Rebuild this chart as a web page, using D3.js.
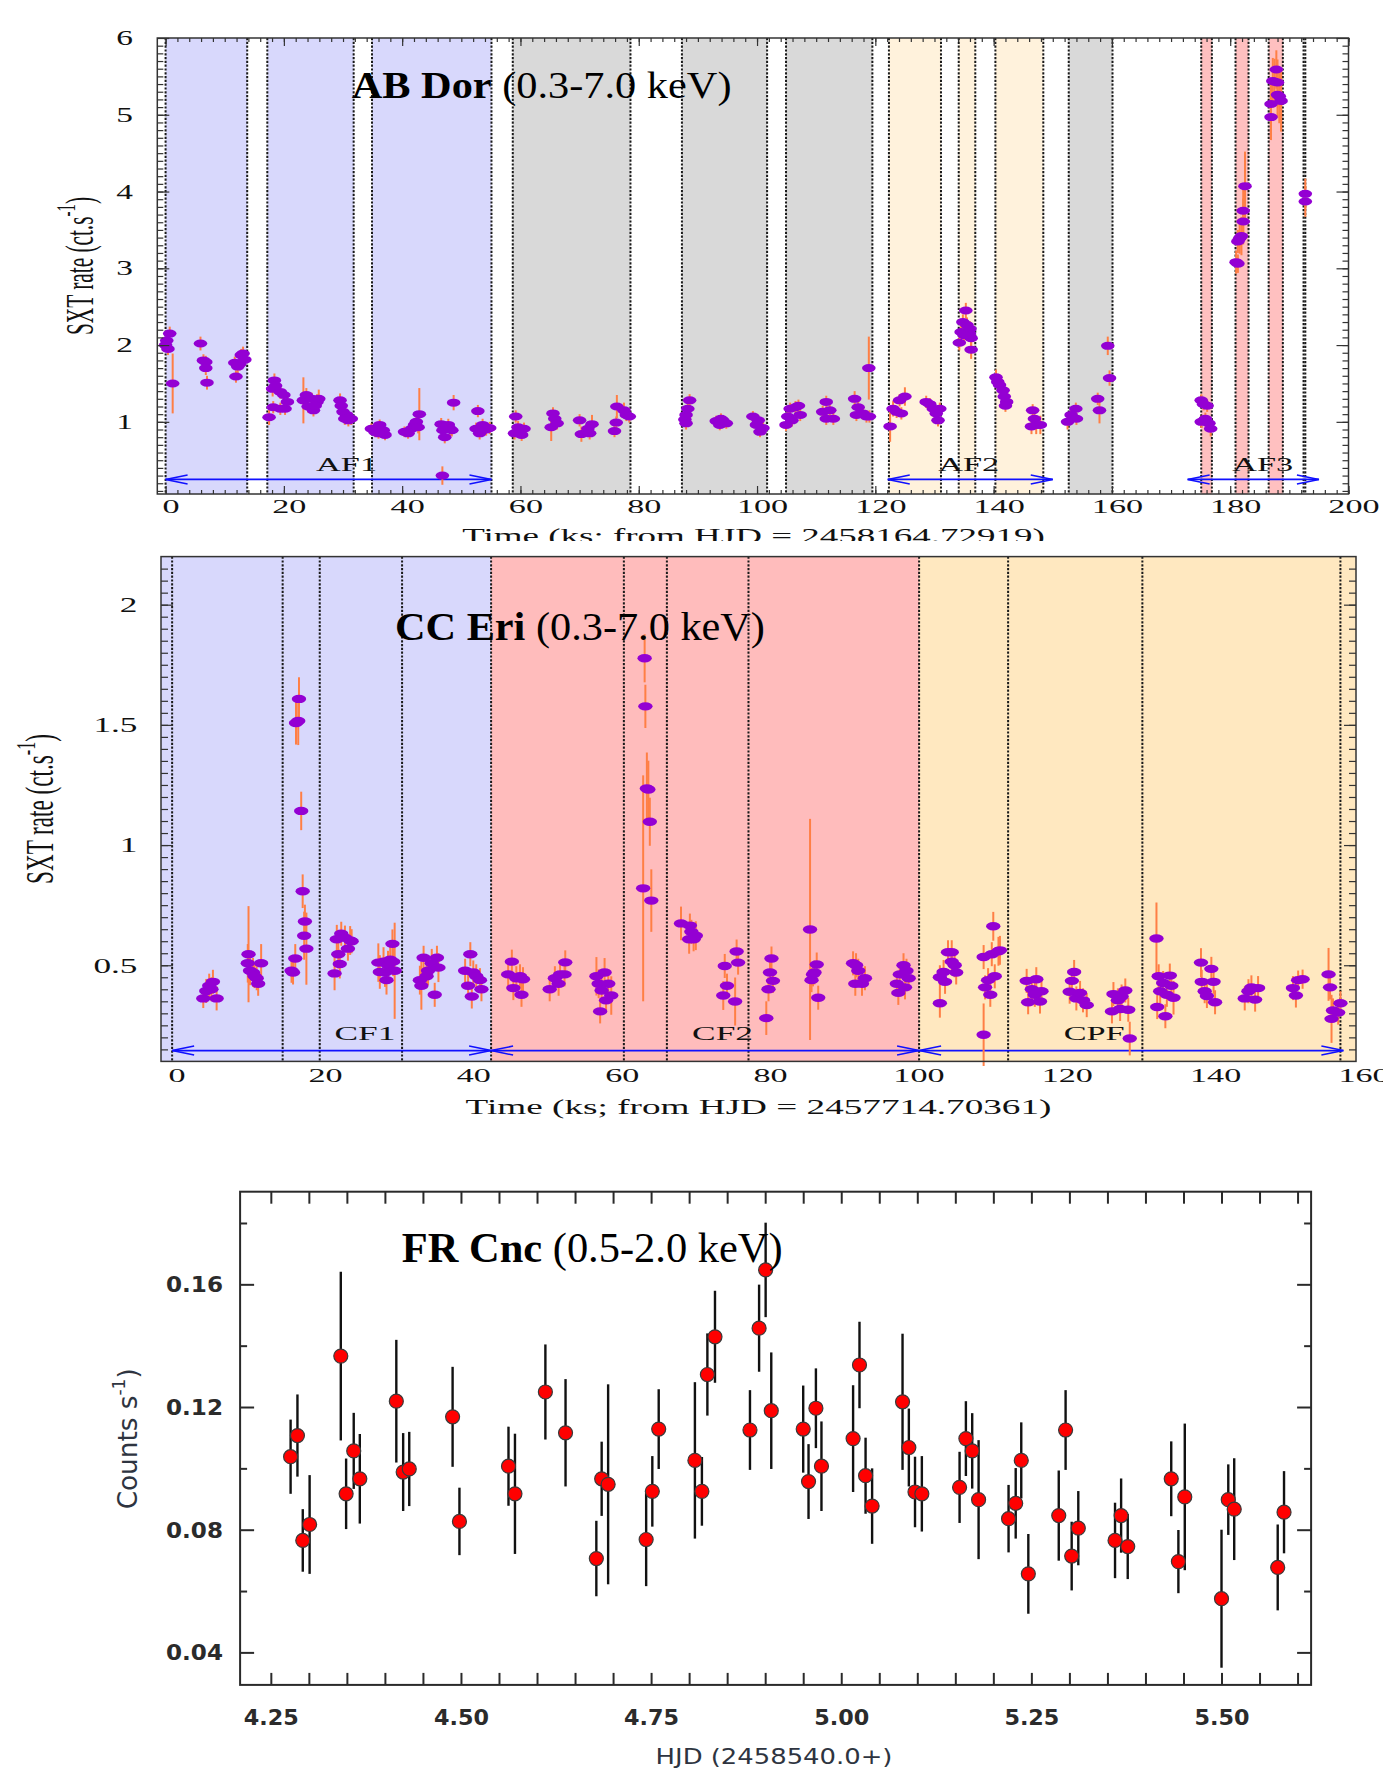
<!DOCTYPE html>
<html>
<head>
<meta charset="utf-8">
<script src="https://cdn.jsdelivr.net/npm/d3@7"></script>
<style>
body{margin:0;background:#fff;}
svg{display:block;}
</style>
</head>
<body>
<script>
// ---------------- DATA ----------------
// AB Dor : [time (ks), SXT rate, error]
const abDor = [
[0.0,2.00,0.08],[0.2,2.06,0.08],[0.7,2.15,0.09],[0.4,1.95,0.08],[1.2,1.50,0.39],
[5.9,2.02,0.09],[6.4,1.80,0.08],[6.8,1.78,0.08],[6.8,1.70,0.09],[7.0,1.51,0.09],
[11.7,1.77,0.08],[11.9,1.59,0.08],[12.2,1.72,0.09],[12.8,1.87,0.08],[13.1,1.89,0.09],[13.4,1.81,0.08],[12.5,1.75,0.08],
[17.5,1.06,0.10],[18.1,1.43,0.10],[18.4,1.54,0.09],[18.6,1.47,0.08],[19.4,1.39,0.09],[20.0,1.35,0.08],[20.2,1.17,0.08],[19.4,1.17,0.08],[20.6,1.26,0.08],[18.2,1.19,0.08],
[23.3,1.28,0.30],[23.8,1.35,0.09],[24.1,1.20,0.08],[24.7,1.30,0.08],[25.0,1.15,0.08],[25.6,1.26,0.10],[25.9,1.30,0.12],[25.3,1.21,0.08],
[29.5,1.28,0.09],[29.7,1.21,0.08],[30.0,1.13,0.08],[30.6,1.09,0.08],[30.9,1.02,0.08],[31.4,1.04,0.08],[30.3,1.04,0.08],
[34.8,0.91,0.07],[35.4,0.87,0.07],[36.2,0.96,0.07],[36.8,0.89,0.07],[37.1,0.83,0.07],[36.0,0.85,0.07],
[40.4,0.87,0.07],[41.0,0.85,0.07],[41.6,0.91,0.08],[42.1,0.96,0.08],[42.4,1.00,0.08],[42.9,1.10,0.34],[42.7,0.93,0.08],
[46.6,0.97,0.08],[46.9,0.89,0.08],[47.2,0.80,0.08],[47.8,0.96,0.08],[48.1,0.91,0.08],[48.4,0.89,0.08],[48.7,1.25,0.10],[46.8,0.30,0.12],
[52.8,1.14,0.08],[52.5,0.91,0.08],[53.1,0.85,0.08],[53.6,0.96,0.08],[54.2,0.90,0.08],[54.8,0.92,0.08],
[59.2,1.07,0.08],[59.6,0.93,0.08],[60.2,0.83,0.08],[59.0,0.85,0.08],[60.6,0.91,0.08],
[65.5,1.11,0.08],[65.8,1.04,0.08],[65.2,0.93,0.18],[66.2,0.98,0.08],
[70.0,1.02,0.08],[70.3,0.84,0.10],[71.7,0.85,0.08],[72.1,0.97,0.12],[71.4,0.91,0.08],
[75.9,0.88,0.08],[76.2,0.99,0.08],[76.3,1.20,0.15],[77.5,1.15,0.10],[77.9,1.09,0.08],[78.4,1.07,0.08],
[87.8,1.03,0.08],[88.0,1.09,0.08],[88.3,1.17,0.08],[88.6,1.28,0.08],[88.0,0.98,0.08],
[93.1,1.01,0.07],[93.7,0.96,0.07],[94.2,1.02,0.07],[94.8,0.98,0.07],[93.9,1.04,0.07],
[99.3,1.07,0.07],[99.9,0.96,0.07],[100.5,0.87,0.07],[101.0,0.92,0.08],[100.2,1.02,0.07],
[104.9,0.96,0.08],[105.2,1.07,0.08],[105.6,1.17,0.08],[106.5,1.19,0.08],[107.0,1.21,0.08],[107.3,1.09,0.08],[105.9,1.02,0.08],
[111.1,1.13,0.08],[111.7,1.26,0.08],[112.3,1.15,0.08],[112.9,1.04,0.08],[111.7,1.04,0.08],
[116.5,1.30,0.10],[117.1,1.19,0.08],[116.8,1.09,0.08],[117.9,1.11,0.08],[118.5,1.07,0.08],[118.9,1.70,0.41],[119.0,1.07,0.08],
[122.5,0.94,0.20],[123.0,1.17,0.10],[123.6,1.13,0.08],[124.1,1.28,0.08],[125.0,1.33,0.12],[124.4,1.11,0.08],
[128.6,1.26,0.08],[129.2,1.23,0.08],[129.8,1.17,0.08],[130.3,1.11,0.08],[130.6,1.02,0.08],[130.9,1.17,0.08],
[134.2,2.03,0.10],[134.5,2.17,0.10],[134.8,2.30,0.10],[135.3,2.45,0.10],[135.5,2.26,0.10],[135.9,2.15,0.10],[136.0,2.21,0.10],[136.2,2.09,0.10],[136.2,1.94,0.12],[135.0,2.13,0.10],
[140.4,1.58,0.10],[140.7,1.52,0.08],[141.0,1.48,0.08],[141.6,1.41,0.08],[141.8,1.33,0.08],[142.2,1.26,0.08],[142.0,1.21,0.08],
[146.6,1.15,0.08],[146.9,1.04,0.10],[147.2,0.96,0.12],[147.9,0.96,0.12],[146.4,0.94,0.10],
[152.5,1.00,0.10],[153.1,1.09,0.08],[153.9,1.17,0.08],[154.0,1.04,0.08],
[157.6,1.30,0.08],[157.9,1.15,0.17],[159.3,1.99,0.12],[159.6,1.57,0.10],
[175.1,1.28,0.08],[175.5,1.23,0.08],[176.1,1.21,0.08],[175.1,1.00,0.08],[175.8,1.04,0.08],[176.7,0.91,0.10],[176.4,0.98,0.08],
[181.0,3.08,0.15],[181.3,3.06,0.12],[181.3,3.35,0.15],[181.6,3.39,0.20],[181.9,3.42,0.25],[182.2,3.61,0.30],[182.2,3.75,0.35],[182.5,4.07,0.45],
[186.9,4.97,0.30],[186.9,5.14,0.30],[187.2,5.44,0.30],[187.5,5.43,0.30],[187.8,5.59,0.25],[188.0,5.42,0.30],[188.3,5.24,0.35],[188.6,5.18,0.40],[188.0,5.26,0.30],
[192.7,3.97,0.20],[192.7,3.87,0.20]
];
const abBlue   = [[0,13.8],[17.2,31.8],[34.9,55.1]];
const abGray   = [[58.7,78.6],[87.3,101.7],[104.9,119.5],[152.7,160.1]];
const abOrange = [[122.3,131.1],[134.1,136.9],[140.3,148.4]];
const abRed    = [[175.1,176.9],[180.9,183.1],[186.5,188.9]];
const abLines  = [0,13.8,17.2,31.8,34.9,55.1,58.7,78.6,87.3,101.7,104.9,119.5,122.3,131.1,134.1,136.9,140.3,148.4,152.7,160.1,175.1,176.9,180.9,183.1,186.5,188.9,192.4,192.7];
const abArrows = [["AF1",0,55.1,30.6],["AF2",122.1,150.0,135.8],["AF3",172.8,195.0,185.5]];
const abXTicks = [0,20,40,60,80,100,120,140,160,180,200];
const abYTicks = [1,2,3,4,5,6];

// CC Eri : [time (ks), SXT rate, error]
const ccEri = [
[4.2,0.362,0.04],[4.6,0.393,0.05],[5.0,0.415,0.05],[5.5,0.431,0.05],[5.3,0.400,0.05],[6.0,0.362,0.05],
[10.3,0.546,0.20],[10.2,0.508,0.08],[10.5,0.477,0.06],[10.9,0.470,0.06],[11.4,0.446,0.05],[11.6,0.423,0.05],[12.0,0.508,0.08],[11.1,0.455,0.05],
[16.1,0.477,0.05],[16.3,0.470,0.05],[16.6,0.528,0.06],[16.7,1.508,0.09],[17.0,1.516,0.10],[17.1,1.608,0.09],[17.4,1.142,0.08],[17.6,0.808,0.07],[17.9,0.682,0.07],[17.8,0.623,0.10],[18.1,0.569,0.15],
[21.9,0.466,0.07],[22.2,0.608,0.06],[22.4,0.546,0.06],[22.6,0.505,0.06],[22.8,0.631,0.05],[23.3,0.615,0.05],[24.0,0.603,0.06],[23.7,0.569,0.05],[24.2,0.600,0.05],
[27.8,0.511,0.08],[28.0,0.472,0.07],[28.5,0.515,0.06],[28.9,0.438,0.06],[29.1,0.500,0.06],[29.4,0.523,0.06],[29.7,0.589,0.06],[29.8,0.515,0.06],[30.0,0.477,0.20],[28.7,0.470,0.06],
[33.4,0.438,0.06],[33.6,0.415,0.10],[33.9,0.531,0.05],[34.3,0.454,0.05],[34.5,0.477,0.06],[35.0,0.508,0.06],[35.4,0.377,0.05],[35.7,0.531,0.05],[35.9,0.490,0.06],
[39.5,0.477,0.05],[39.9,0.415,0.05],[40.2,0.546,0.05],[40.4,0.370,0.05],[40.6,0.470,0.05],[41.0,0.454,0.05],[41.5,0.438,0.05],[41.7,0.400,0.05],
[45.3,0.462,0.05],[45.8,0.515,0.05],[46.0,0.405,0.05],[46.4,0.446,0.05],[46.9,0.454,0.05],[47.1,0.377,0.05],[47.3,0.442,0.05],
[50.9,0.400,0.05],[51.6,0.446,0.05],[52.1,0.423,0.05],[52.3,0.462,0.05],[53.0,0.512,0.05],[52.9,0.462,0.05],
[57.2,0.454,0.08],[57.5,0.423,0.06],[57.7,0.308,0.05],[57.9,0.395,0.05],[58.3,0.470,0.06],[58.8,0.423,0.06],[58.5,0.354,0.05],[59.2,0.374,0.08],
[63.5,0.820,0.47],[63.7,1.777,0.10],[63.8,1.577,0.09],[64.0,1.235,0.15],[64.2,1.231,0.12],[64.4,1.097,0.10],[64.6,0.769,0.13],
[68.6,0.674,0.07],[69.8,0.665,0.05],[70.0,0.639,0.05],[70.3,0.608,0.05],[70.6,0.623,0.06],[69.7,0.608,0.06],
[74.5,0.497,0.05],[74.8,0.415,0.05],[74.3,0.374,0.06],[76.1,0.557,0.05],[76.3,0.511,0.05],[75.9,0.349,0.10],
[80.1,0.280,0.07],[80.4,0.400,0.05],[80.6,0.470,0.05],[80.8,0.528,0.05],[81.0,0.435,0.05],
[86.0,0.649,0.46],[86.2,0.438,0.05],[86.4,0.462,0.05],[86.9,0.503,0.05],[87.1,0.365,0.05],[86.6,0.470,0.05],
[91.8,0.508,0.05],[92.1,0.423,0.05],[92.5,0.477,0.05],[93.0,0.423,0.05],[93.4,0.446,0.05],[92.2,0.500,0.05],
[97.7,0.423,0.05],[97.9,0.385,0.05],[98.1,0.462,0.05],[98.6,0.500,0.05],[99.0,0.477,0.05],[99.3,0.446,0.05],[98.8,0.408,0.05],
[103.5,0.342,0.06],[103.5,0.450,0.05],[104.0,0.472,0.05],[104.2,0.431,0.05],[104.6,0.554,0.05],[105.1,0.554,0.05],[105.1,0.515,0.05],[105.5,0.500,0.05],[105.7,0.470,0.05],
[109.4,0.211,0.13],[109.4,0.534,0.05],[109.6,0.408,0.05],[110.0,0.438,0.05],[110.3,0.377,0.05],[110.7,0.662,0.06],[110.5,0.546,0.05],[110.9,0.454,0.05],[111.4,0.558,0.06],[111.6,0.562,0.06],
[115.2,0.435,0.05],[115.4,0.346,0.05],[115.9,0.400,0.05],[116.3,0.377,0.05],[116.5,0.442,0.05],[117.0,0.349,0.05],[117.2,0.392,0.05],
[121.3,0.435,0.05],[121.0,0.390,0.05],[121.6,0.472,0.05],[121.9,0.362,0.05],[122.4,0.385,0.05],[122.8,0.354,0.05],[123.3,0.334,0.05],
[126.7,0.308,0.05],[126.9,0.380,0.05],[127.5,0.354,0.05],[127.8,0.318,0.05],[128.0,0.370,0.05],[128.5,0.395,0.05],[128.9,0.315,0.05],[129.1,0.195,0.07],
[132.7,0.611,0.15],[132.8,0.326,0.05],[133.0,0.454,0.05],[133.2,0.392,0.05],[133.6,0.426,0.05],[133.9,0.288,0.05],[134.1,0.377,0.05],[134.5,0.457,0.05],[134.7,0.415,0.05],[135.0,0.365,0.07],
[138.7,0.511,0.06],[138.8,0.431,0.05],[139.2,0.392,0.05],[139.5,0.372,0.05],[140.1,0.485,0.05],[140.4,0.431,0.05],[140.6,0.346,0.05],
[144.6,0.362,0.05],[145.1,0.392,0.05],[145.5,0.408,0.05],[146.0,0.357,0.05],[146.4,0.405,0.05],
[151.1,0.405,0.05],[151.5,0.374,0.05],[151.8,0.438,0.04],[152.4,0.442,0.04],
[155.9,0.462,0.11],[156.1,0.408,0.05],[156.3,0.277,0.10],[156.5,0.312,0.05],[157.2,0.303,0.05],[157.5,0.342,0.05]
];
const ccBlue   = [[-1.5,43.0]];
const ccRed    = [[43.0,100.7]];
const ccOrange = [[100.7,159.6]];
const ccLines  = [0,14.9,19.9,31.0,43.0,60.9,66.7,77.7,100.7,112.7,130.8,157.5];
const ccArrows = [["CF1",0,43.0,26.0],["CF2",43.0,100.7,74.2],["CPF",100.7,157.9,124.3]];
const ccXTicks = [0,20,40,60,80,100,120,140,160];
const ccYTicks = [0.5,1,1.5,2];

// FR Cnc : [HJD - 2458540.0, counts/s, error]
const frCnc = [
[4.276,0.1038,0.0121],[4.285,0.1107,0.0134],[4.292,0.0765,0.0102],[4.301,0.0817,0.0161],[4.342,0.1366,0.0275],
[4.349,0.0917,0.0115],[4.359,0.1057,0.0124],[4.367,0.0966,0.0146],[4.415,0.1219,0.0200],[4.424,0.0988,0.0127],
[4.432,0.0998,0.0121],[4.489,0.1168,0.0163],[4.498,0.0827,0.0110],[4.5625,0.1007,0.0129],[4.571,0.0917,0.0196],
[4.611,0.1249,0.0155],[4.6375,0.1116,0.0175],[4.678,0.0706,0.0123],[4.685,0.0966,0.0121],[4.6935,0.0948,0.0326],
[4.7435,0.0768,0.0152],[4.7516,0.0925,0.0115],[4.760,0.1128,0.0130],[4.8076,0.1026,0.0255],[4.8168,0.0925,0.0112],
[4.824,0.1306,0.0134],[4.834,0.1429,0.0150],[4.880,0.1125,0.0130],[4.892,0.1457,0.0142],[4.9006,0.1647,0.0154],
[4.908,0.1188,0.0190],[4.950,0.1128,0.0142],[4.957,0.0957,0.0122],[4.9667,0.1196,0.0130],[4.974,0.1007,0.0146],
[5.0156,0.1097,0.0174],[5.024,0.1337,0.0141],[5.032,0.0976,0.0124],[5.0406,0.0877,0.0123],[5.0806,0.1217,0.0222],
[5.0889,0.1068,0.0127],[5.097,0.0923,0.0115],[5.106,0.0917,0.0123],[5.1556,0.0938,0.0116],[5.1639,0.1097,0.0122],
[5.1722,0.1057,0.0123],[5.1806,0.0898,0.0194],[5.220,0.0836,0.0110],[5.2294,0.0886,0.0115],[5.2367,0.1026,0.0124],
[5.246,0.0656,0.0130],[5.286,0.0846,0.0147],[5.295,0.1125,0.0130],[5.303,0.0714,0.0112],[5.3117,0.0805,0.0121],
[5.360,0.0765,0.0123],[5.368,0.0846,0.0121],[5.3767,0.0745,0.0106],[5.4339,0.0966,0.0122],[5.4433,0.0696,0.0103],
[5.4517,0.0907,0.0239],[5.500,0.0575,0.0225],[5.5089,0.0898,0.0115],[5.5167,0.0867,0.0166],[5.5739,0.0677,0.0140],
[5.5822,0.0857,0.0134]
];
const frXTicks = [4.25,4.50,4.75,5.00,5.25,5.50];
const frYTicks = [0.04,0.08,0.12,0.16];

// ---------------- DRAWING ----------------
const W = 1383, H = 1768;
const svg = d3.select("body").append("svg").attr("width", W).attr("height", H);
const SERIF = "'Liberation Serif','DejaVu Serif',serif";
const SANS = "'DejaVu Sans','Liberation Sans',sans-serif";

function fitX(text, width, ax, ay) {
  const w = text.node().getComputedTextLength();
  text.attr("transform", `translate(${ax},${ay}) scale(${width / w},1)`);
}

function tickAxis(g, scale, orient, values, size, pos, color) {
  const gen = {bottom: d3.axisBottom, top: d3.axisTop, left: d3.axisLeft, right: d3.axisRight}[orient];
  const a = g.append("g")
    .attr("transform", (orient === "bottom" || orient === "top") ? `translate(0,${pos})` : `translate(${pos},0)`)
    .call(gen(scale).tickValues(values).tickSize(size).tickFormat(""));
  a.select(".domain").remove();
  a.selectAll("line").attr("stroke", color || "#333").attr("stroke-width", 1.2);
  return a;
}

function labelAxis(g, scale, orient, values, fmt, pos) {
  const gen = {bottom: d3.axisBottom, left: d3.axisLeft}[orient];
  const a = g.append("g")
    .attr("transform", orient === "bottom" ? `translate(0,${pos})` : `translate(${pos},0)`)
    .call(gen(scale).tickValues(values).tickSize(0).tickPadding(0).tickFormat(fmt));
  a.select(".domain").remove();
  a.selectAll("line").remove();
  return a.selectAll("text");
}

function regions(g, x, y, list, color) {
  g.selectAll(null).data(list).enter().append("rect")
    .attr("x", d => x(d[0])).attr("width", d => x(d[1]) - x(d[0]))
    .attr("y", y.range()[1]).attr("height", y.range()[0] - y.range()[1])
    .attr("fill", color);
}

function dotted(g, x, y, list) {
  g.selectAll(null).data(list).enter().append("line")
    .attr("x1", d => x(d)).attr("x2", d => x(d))
    .attr("y1", y.range()[1]).attr("y2", y.range()[0])
    .attr("stroke", "#1a1a1a").attr("stroke-width", 2).attr("stroke-dasharray", "2.2,1.6");
}

function arrows(g, x, y, list, yv, ylab) {
  list.forEach(([lab, a, b, c]) => {
    const yy = y(yv), x1 = x(a), x2 = x(b);
    g.append("line").attr("x1", x1).attr("x2", x2).attr("y1", yy).attr("y2", yy)
      .attr("stroke", "#1010ff").attr("stroke-width", 1.6);
    g.append("polyline").attr("points", `${x1 + 22},${yy - 4.5} ${x1},${yy} ${x1 + 22},${yy + 4.5}`)
      .attr("fill", "none").attr("stroke", "#1010ff").attr("stroke-width", 1.6);
    g.append("polyline").attr("points", `${x2 - 22},${yy - 4.5} ${x2},${yy} ${x2 - 22},${yy + 4.5}`)
      .attr("fill", "none").attr("stroke", "#1010ff").attr("stroke-width", 1.6);
    const t = g.append("text").attr("font-family", SERIF).attr("font-size", 18)
      .attr("text-anchor", "middle").attr("fill", "#111").text(lab);
    fitX(t, 61, x(c), y(ylab));
  });
}

function title(g, x, y, bold, normal, fs, width) {
  const t = g.append("text").attr("font-family", SERIF).attr("font-size", fs).attr("fill", "#000");
  t.append("tspan").attr("font-weight", "bold").text(bold);
  t.append("tspan").text(" " + normal);
  fitX(t, width, x, y);
}

function rotLabel(g, cx, cy, parts, font, fs, len, fill, supScale) {
  const gg = g.append("g").attr("transform", `translate(${cx},${cy}) rotate(-90)`);
  const t = gg.append("text").attr("font-family", font).attr("font-size", fs)
    .attr("text-anchor", "middle").attr("fill", fill || "#111");
  t.append("tspan").text(parts[0]);
  t.append("tspan").attr("font-size", fs * (supScale || 0.62)).attr("dy", -fs * 0.45).text(parts[1]);
  t.append("tspan").attr("dy", fs * 0.45).text(parts[2]);
  const w = t.node().getComputedTextLength();
  t.attr("transform", `scale(${len / w},1)`);
}

function sxtPoints(g, x, y, data, rx, ry) {
  g.selectAll(null).data(data).enter().append("line")
    .attr("x1", d => x(d[0])).attr("x2", d => x(d[0]))
    .attr("y1", d => y(d[1] - d[2])).attr("y2", d => y(d[1] + d[2]))
    .attr("stroke", "#ff7f45").attr("stroke-width", 2);
  g.selectAll(null).data(data).enter().append("ellipse")
    .attr("cx", d => x(d[0])).attr("cy", d => y(d[1]))
    .attr("rx", rx).attr("ry", ry).attr("fill", "#9400d3");
}

// ======== Panel 1: AB Dor ========
{
  const g = svg.append("g");
  const x = d3.scaleLinear().domain([-1.4, 200]).range([157.3, 1348.5]);
  const y = d3.scaleLinear().domain([0.06, 6]).range([494, 38]);
  regions(g, x, y, abBlue, "#d8d8fc");
  regions(g, x, y, abGray, "#d9d9d9");
  regions(g, x, y, abOrange, "#fff2dc");
  regions(g, x, y, abRed, "#ffc0c0");
  dotted(g, x, y, abLines);
  arrows(g, x, y, abArrows, 0.25, 0.36);
  sxtPoints(g, x, y, abDor, 6.8, 4);
  g.append("rect").attr("x", 157.3).attr("y", 38).attr("width", 1348.5 - 157.3).attr("height", 494 - 38)
    .attr("fill", "none").attr("stroke", "#333").attr("stroke-width", 1.5);
  const minorX = d3.range(0, 101).map(i => i * 2);
  const minorY = d3.range(1, 60).map(i => i / 10);
  tickAxis(g, x, "bottom", minorX, -4, 494);
  tickAxis(g, x, "bottom", abXTicks, -8, 494);
  tickAxis(g, x, "top", minorX, -4, 38);
  tickAxis(g, x, "top", abXTicks, -8, 38);
  tickAxis(g, y, "left", minorY, -6, 157.3);
  tickAxis(g, y, "left", abYTicks, -12, 157.3);
  tickAxis(g, y, "right", minorY, -6, 1348.5);
  tickAxis(g, y, "right", abYTicks, -12, 1348.5);
  labelAxis(g, x, "bottom", abXTicks, d3.format("d"), 494)
    .attr("font-family", SERIF).attr("font-size", 19).attr("fill", "#111")
    .attr("y", 0).attr("dy", 0).attr("transform", "translate(5,19) scale(1.8,1)");
  labelAxis(g, y, "left", abYTicks, d3.format("d"), 157.3)
    .attr("font-family", SERIF).attr("font-size", 20).attr("fill", "#111")
    .attr("x", 0).attr("dy", "0.33em").attr("text-anchor", "end")
    .attr("transform", `translate(${133 - 157.3},0) scale(1.67,1)`);
  rotLabel(g, 93, 266, ["SXT rate (ct.s", "-1", ")"], SERIF, 40, 138, "#111", 0.7);
  const clip = svg.append("defs").append("clipPath").attr("id", "clipTop");
  clip.append("rect").attr("x", 0).attr("y", 0).attr("width", W).attr("height", 541);
  const gl = g.append("g").attr("clip-path", "url(#clipTop)");
  const xl = gl.append("text").attr("font-family", SERIF).attr("font-size", 21).attr("fill", "#111")
    .attr("text-anchor", "middle").text("Time (ks; from HJD = 2458164.72919)");
  fitX(xl, 583, 753.5, 542.5);
  title(g, 351.7, 98.3, "AB Dor", "(0.3-7.0 keV)", 38, 380);
}

// ======== Panel 2: CC Eri ========
{
  const g = svg.append("g");
  const x = d3.scaleLinear().domain([-1.5, 159.6]).range([161, 1356]);
  const y = d3.scaleLinear().domain([0.1, 2.2]).range([1061.4, 556.6]);
  regions(g, x, y, ccBlue, "#d8d8fc");
  regions(g, x, y, ccRed, "#ffbcbc");
  regions(g, x, y, ccOrange, "#ffe8c0");
  dotted(g, x, y, ccLines);
  arrows(g, x, y, ccArrows, 0.145, 0.189);
  sxtPoints(g, x, y, ccEri, 7.2, 4.2);
  g.append("rect").attr("x", 161).attr("y", 556.6).attr("width", 1356 - 161).attr("height", 1061.4 - 556.6)
    .attr("fill", "none").attr("stroke", "#333").attr("stroke-width", 1.5);
  const minorY = d3.range(3, 44).map(i => i * 0.05);
  tickAxis(g, y, "left", minorY, -7, 161);
  tickAxis(g, y, "left", ccYTicks, -12, 161);
  tickAxis(g, y, "right", minorY, -7, 1356);
  tickAxis(g, y, "right", ccYTicks, -12, 1356);
  labelAxis(g, x, "bottom", ccXTicks, d3.format("d"), 1061.4)
    .attr("font-family", SERIF).attr("font-size", 19.5).attr("fill", "#111")
    .attr("y", 0).attr("dy", 0).attr("transform", "translate(4.5,20.6) scale(1.75,1)");
  labelAxis(g, y, "left", ccYTicks, d => String(d), 161)
    .attr("font-family", SERIF).attr("font-size", 20.5).attr("fill", "#111")
    .attr("x", 0).attr("dy", "0.33em").attr("text-anchor", "end")
    .attr("transform", `translate(${137.5 - 161},0) scale(1.72,1)`);
  rotLabel(g, 53.3, 809, ["SXT rate (ct.s", "-1", ")"], SERIF, 40, 150, "#111", 0.7);
  const xl = g.append("text").attr("font-family", SERIF).attr("font-size", 21).attr("fill", "#111")
    .attr("text-anchor", "middle").text("Time (ks; from HJD = 2457714.70361)");
  fitX(xl, 586, 758.5, 1114);
  title(g, 395, 640, "CC Eri", "(0.3-7.0 keV)", 39, 370);
}

// ======== Panel 3: FR Cnc ========
{
  const g = svg.append("g");
  const x = d3.scaleLinear().domain([4.2096, 5.6178]).range([240.1, 1311.1]);
  const y = d3.scaleLinear().domain([0.0294, 0.1902]).range([1684.9, 1191.7]);
  g.append("rect").attr("x", 240.1).attr("y", 1191.7).attr("width", 1311.1 - 240.1).attr("height", 1684.9 - 1191.7)
    .attr("fill", "none").attr("stroke", "#2a2a2a").attr("stroke-width", 2);
  const minorX = d3.range(0, 28).map(i => 4.25 + i * 0.05);
  const minorY = [0.06, 0.10, 0.14, 0.18];
  tickAxis(g, x, "bottom", minorX, -12, 1684.9, "#2a2a2a").selectAll("line").attr("stroke-width", 2);
  tickAxis(g, x, "top", minorX, -12, 1191.7, "#2a2a2a").selectAll("line").attr("stroke-width", 2);
  tickAxis(g, y, "left", minorY, -7, 240.1, "#2a2a2a").selectAll("line").attr("stroke-width", 2);
  tickAxis(g, y, "left", frYTicks, -14, 240.1, "#2a2a2a").selectAll("line").attr("stroke-width", 2);
  tickAxis(g, y, "right", minorY, -7, 1311.1, "#2a2a2a").selectAll("line").attr("stroke-width", 2);
  tickAxis(g, y, "right", frYTicks, -14, 1311.1, "#2a2a2a").selectAll("line").attr("stroke-width", 2);
  g.selectAll(null).data(frCnc).enter().append("line")
    .attr("x1", d => x(d[0])).attr("x2", d => x(d[0]))
    .attr("y1", d => y(d[1] - d[2])).attr("y2", d => y(d[1] + d[2]))
    .attr("stroke", "#111").attr("stroke-width", 2.4);
  g.selectAll(null).data(frCnc).enter().append("circle")
    .attr("cx", d => x(d[0])).attr("cy", d => y(d[1])).attr("r", 7)
    .attr("fill", "#ff0000").attr("stroke", "#3a3a3a").attr("stroke-width", 1.2);
  labelAxis(g, x, "bottom", frXTicks, d3.format(".2f"), 1684.9)
    .attr("font-family", SANS).attr("font-size", 21).attr("font-weight", "bold").attr("fill", "#2b2b2b")
    .attr("y", 0).attr("dy", 0).each(function () { fitX(d3.select(this), 55, 0, 40); });
  labelAxis(g, y, "left", frYTicks, d3.format(".2f"), 240.1)
    .attr("font-family", SANS).attr("font-size", 21).attr("font-weight", "bold").attr("fill", "#2b2b2b")
    .attr("x", 0).attr("dy", "0.36em").attr("text-anchor", "end")
    .each(function () { fitX(d3.select(this), 57, 223 - 240.1, 0); });
  rotLabel(g, 137, 1438.8, ["Counts s", "-1", ")"], SANS, 26, 141, "#2e3440", 0.65);
  const xl = g.append("text").attr("font-family", SANS).attr("font-size", 21).attr("fill", "#2e3440")
    .attr("text-anchor", "middle").text("HJD (2458540.0+)");
  fitX(xl, 237, 774, 1764);
  title(g, 401.8, 1261.5, "FR Cnc", "(0.5-2.0 keV)", 43, 381);
}
</script>
</body>
</html>
